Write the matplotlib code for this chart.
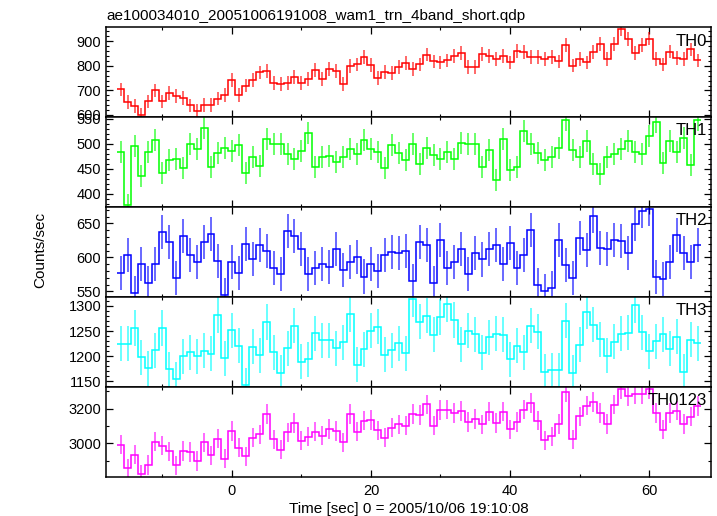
import numpy as np
import matplotlib
matplotlib.use('Agg')
import matplotlib.pyplot as plt
from matplotlib.ticker import MultipleLocator

plt.rcParams['font.family'] = ['Liberation Sans', 'DejaVu Sans']

# bin centres [sec], 1 s bins
time = np.arange(-16, 68)

th0 = [704, 652, 635, 599, 655, 700, 655, 689, 678, 670, 639, 616, 640, 640, 667, 682,
       741, 680, 720, 742, 773, 779, 729, 725, 729, 756, 731, 748, 782, 746, 786, 779,
       725, 798, 806, 835, 803, 750, 776, 771, 794, 813, 788, 806, 846, 818, 814, 822,
       841, 851, 795, 795, 847, 840, 828, 840, 814, 862, 855, 835, 837, 828, 835, 818,
       885, 801, 827, 814, 855, 889, 827, 888, 949, 908, 851, 884, 911, 829, 806, 858,
       831, 828, 867, 822]
th1 = [484, 377, 495, 435, 484, 508, 441, 468, 470, 452, 500, 489, 532, 454, 481, 491,
       485, 497, 442, 474, 455, 509, 500, 499, 480, 470, 486, 522, 454, 473, 476, 464,
       474, 490, 479, 508, 490, 484, 452, 498, 481, 468, 499, 459, 491, 477, 470, 483,
       470, 502, 499, 499, 454, 488, 428, 509, 448, 454, 526, 499, 482, 468, 474, 492,
       548, 488, 474, 505, 460, 439, 473, 480, 490, 505, 484, 479, 515, 543, 461, 505,
       483, 511, 457, 548]
th2 = [577, 604, 548, 590, 563, 591, 637, 623, 570, 631, 603, 593, 622, 634, 595, 545,
       593, 577, 620, 598, 618, 610, 585, 575, 639, 631, 612, 575, 585, 591, 586, 612,
       581, 593, 600, 572, 591, 580, 603, 608, 606, 610, 566, 623, 618, 563, 626, 585,
       593, 612, 575, 607, 597, 613, 618, 591, 621, 585, 604, 640, 560, 551, 555, 625,
       589, 570, 628, 611, 661, 614, 613, 625, 624, 607, 649, 668, 671, 571, 568, 593,
       633, 606, 593, 618]
th3 = [1225, 1225, 1256, 1198, 1176, 1212, 1256, 1174, 1154, 1200, 1208, 1200, 1211, 1205,
       1282, 1196, 1252, 1221, 1142, 1219, 1202, 1268, 1208, 1167, 1216, 1261, 1189, 1194,
       1246, 1232, 1232, 1216, 1228, 1284, 1183, 1214, 1251, 1259, 1203, 1212, 1226, 1206,
       1313, 1269, 1281, 1243, 1278, 1304, 1272, 1224, 1251, 1244, 1207, 1238, 1245, 1243,
       1194, 1221, 1208, 1261, 1249, 1169, 1172, 1172, 1271, 1167, 1223, 1289, 1263, 1234,
       1201, 1229, 1245, 1247, 1301, 1248, 1210, 1230, 1244, 1215, 1239, 1169, 1233, 1226]
th0123 = [2992, 2855, 2935, 2821, 2874, 3010, 2987, 2954, 2872, 2956, 2949, 2897, 3006, 2931,
          3027, 2912, 3072, 2975, 2924, 3032, 3051, 3170, 3023, 2964, 3063, 3118, 3015, 3038,
          3067, 3044, 3082, 3072, 3006, 3168, 3067, 3130, 3135, 3074, 3032, 3091, 3110, 3101,
          3170, 3164, 3225, 3101, 3192, 3194, 3175, 3187, 3122, 3141, 3109, 3183, 3118, 3183,
          3080, 3124, 3194, 3232, 3131, 3017, 3040, 3112, 3295, 3023, 3156, 3217, 3238, 3175,
          3112, 3223, 3314, 3272, 3284, 3284, 3314, 3175, 3078, 3175, 3189, 3112, 3154, 3215]

# typical 1-sigma error read from the bars of each panel
errors = [28, 22, 25, 35, 56]

labels = ['TH0', 'TH1', 'TH2', 'TH3', 'TH0123']
series = [th0, th1, th2, th3, th0123]
colors = ['#ff0000', '#00ff00', '#0000ff', '#00ffff', '#ff00ff']
ylims = [(591, 957), (373, 553), (542, 674), (1139, 1318), (2807, 3326)]
ysteps = [(100, 20), (50, 10), (50, 10), (50, 10), (200, 100)]

fig = plt.figure(figsize=(7.17, 5.16), dpi=100)
gs = fig.add_gridspec(5, 1, left=106/717, right=711/717, bottom=1-476.7/516,
                      top=1-27.3/516, hspace=0)
edges = np.append(time - 0.5, time[-1] + 0.5)

for i, (lab, vals, col) in enumerate(zip(labels, series, colors)):
    ax = fig.add_subplot(gs[i])
    vals = np.array(vals)
    ax.errorbar(time, vals, yerr=errors[i], fmt='none', ecolor=col, elinewidth=1.1,
                alpha=0.75, capsize=0)
    ax.stairs(vals, edges, baseline=None, color=col, linewidth=1.1)
    ax.set_xlim(-18.1, 68.9)
    ax.set_ylim(*ylims[i])
    ax.xaxis.set_major_locator(MultipleLocator(20))
    ax.xaxis.set_minor_locator(MultipleLocator(10))
    ax.yaxis.set_major_locator(MultipleLocator(ysteps[i][0]))
    ax.yaxis.set_minor_locator(MultipleLocator(ysteps[i][1]))
    ax.tick_params(which='both', direction='in', top=True, right=True, labelsize=10.5)
    ax.tick_params(which='major', length=5, width=0.9)
    ax.tick_params(which='minor', length=2.5, width=0.8)
    ax.tick_params(axis='x', pad=5)
    for s in ax.spines.values():
        s.set_linewidth(1.1)
    ax.text(0.993, 0.93, lab, transform=ax.transAxes, ha='right', va='top', fontsize=12)
    if i < 4:
        ax.tick_params(labelbottom=False)
    else:
        ax.set_xlabel('Time [sec] 0 = 2005/10/06 19:10:08', fontsize=11, labelpad=3)
    if i == 0:
        ax.set_title('ae100034010_20051006191008_wam1_trn_4band_short.qdp', loc='left',
                     fontsize=11, pad=5)

fig.text(40/717, 1-250/516, 'Counts/sec', rotation=90, ha='center', va='center', fontsize=11)
fig.savefig('out.png', dpi=100)
